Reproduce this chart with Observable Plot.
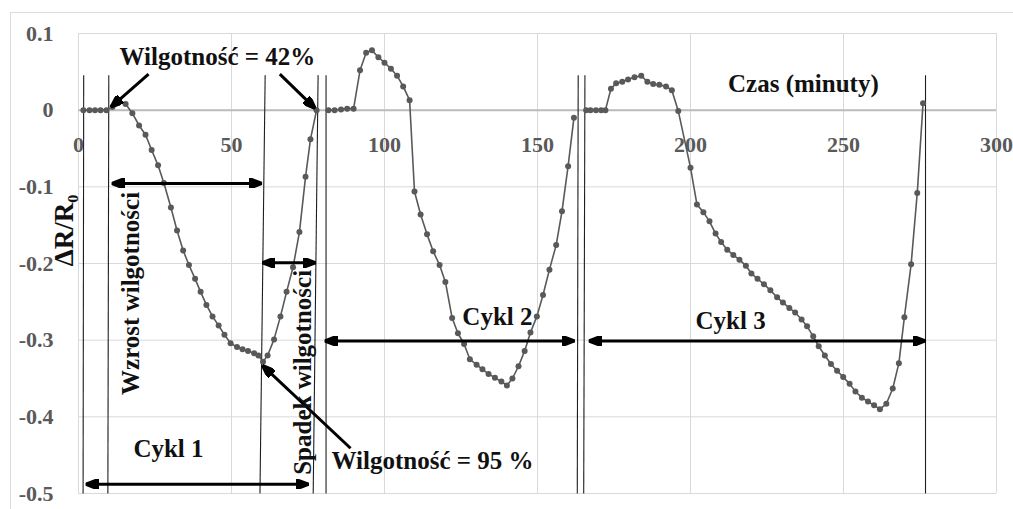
<!DOCTYPE html>
<html><head><meta charset="utf-8">
<script src="https://cdn.jsdelivr.net/npm/d3@7"></script>
<script src="https://cdn.jsdelivr.net/npm/@observablehq/plot@0.6"></script>
<style>
html,body{margin:0;padding:0;background:#fff;}
#wrap{position:relative;width:1013px;height:509px;overflow:hidden;}
#frame{position:absolute;left:10px;top:12px;right:-2px;bottom:-2px;border-top:1px solid #dcdcdc;border-left:1px solid #dcdcdc;pointer-events:none;}
</style></head><body>
<div id="wrap"><div id="chart"></div><div id="frame"></div></div>
<script>
// ---- data (time in minutes, ΔR/R0) ----
const cycle1Time = [1.6,3.6,5.4,7.2,9.1,11.1,13.1,15.4,17.6,19.8,21.9,23.9,26.0,27.9,30.2,32.2,34.2,36.1,38.1,39.9,41.8,43.8,45.8,47.7,49.7,51.8,53.6,55.4,57.4,58.8,60.3,61.8,63.9,66.0,68.0,70.1,72.2,74.2,75.8,77.8];
const cycle1Value = [0,0,0,0,0,0.004,0.010,0.008,-0.004,-0.020,-0.032,-0.052,-0.072,-0.095,-0.127,-0.157,-0.183,-0.202,-0.220,-0.237,-0.254,-0.269,-0.281,-0.293,-0.304,-0.309,-0.312,-0.314,-0.317,-0.320,-0.328,-0.320,-0.299,-0.269,-0.237,-0.205,-0.159,-0.087,-0.038,0];
const cycle2Time = [81.7,83.7,85.8,87.8,89.9,92.0,94.0,95.9,98.0,100.0,102.1,104.1,106.1,108.2,109.8,111.8,113.9,115.9,118.0,119.9,122.1,124.0,126.0,127.9,130.1,132.0,134.0,136.1,138.2,140.0,141.8,143.8,145.8,147.7,149.8,151.8,153.9,156.1,158.0,160.0,161.9];
const cycle2Value = [0,0,0.001,0.002,0.002,0.052,0.075,0.078,0.069,0.062,0.054,0.045,0.031,0.013,-0.106,-0.136,-0.162,-0.184,-0.202,-0.224,-0.271,-0.291,-0.305,-0.325,-0.332,-0.338,-0.344,-0.349,-0.354,-0.359,-0.350,-0.334,-0.314,-0.290,-0.269,-0.241,-0.208,-0.176,-0.132,-0.073,-0.010];
const cycle3Time = [165.9,167.3,169.1,170.8,172.2,174.0,175.7,177.7,179.6,181.7,183.9,185.9,187.8,189.8,192.0,193.9,196.0,200.0,202.1,204.2,206.2,208.2,210.0,212.0,214.0,216.0,218.1,219.9,221.9,224.0,226.1,228.3,230.2,232.3,234.2,236.3,238.1,240.1,241.9,243.9,245.9,247.9,249.9,252.0,253.9,256.0,258.0,260.0,261.9,264.0,266.1,268.1,269.9,272.1,274.1,276.0];
const cycle3Value = [0,0,0,0,0,0.028,0.035,0.037,0.040,0.043,0.045,0.037,0.034,0.033,0.031,0.026,-0.001,-0.075,-0.123,-0.133,-0.145,-0.161,-0.172,-0.182,-0.189,-0.195,-0.203,-0.213,-0.220,-0.227,-0.235,-0.244,-0.251,-0.258,-0.264,-0.273,-0.282,-0.295,-0.308,-0.320,-0.331,-0.340,-0.348,-0.357,-0.367,-0.375,-0.380,-0.385,-0.390,-0.383,-0.363,-0.330,-0.270,-0.201,-0.108,0.009];

const xTicks = [0,50,100,150,200,250,300];
const yTicks = [0.1,0,-0.1,-0.2,-0.3,-0.4,-0.5];

// annotation geometry (data units)
const dividerTopTime = [1.7,9.9,61.0,78.3,80.9,163.3,165.5,276.8];
const dividerBottomTime = [1.5,9.6,59.3,76.7,80.9,163.0,165.1,276.8];
const spanStart = [10.8,60.0,2.3,80.4,166.7];
const spanEnd = [60.0,77.5,75.2,162.1,276.8];
const spanLevel = [-0.0956,-0.199,-0.488,-0.301,-0.301];
const pointerFrom = [[22.9,0.047],[65.8,0.047],[88.9,-0.441]];
const pointerTo = [[10.6,0.004],[77.4,0.002],[60.1,-0.333]];
const labelText = ["Wilgotność = 42%","Czas (minuty)","Cykl 1","Cykl 2","Cykl 3","Wilgotność = 95 %"];
const labelTime = [45.4,236.9,29.4,136.9,213.1,115.7];
const labelLevel = [0.069,0.034,-0.442,-0.270,-0.275,-0.458];
const vLabelText = ["Wzrost wilgotności","Spadek wilgotności"];
const vLabelTime = [17.0,73.5];
const vLabelLevel = [-0.239,-0.342];
const yTitle = {s: "ΔR/R₀", x: -4.6, y: -0.157};

// ---- build tables ----
const series = [
  ...cycle1Time.map((t,i)=>({t, v:cycle1Value[i], c:1})),
  ...cycle2Time.map((t,i)=>({t, v:cycle2Value[i], c:2})),
  ...cycle3Time.map((t,i)=>({t, v:cycle3Value[i], c:3}))
];
const dividers = dividerTopTime.map((t,i)=>({x1:t, x2:dividerBottomTime[i], y1:0.0457, y2:-0.5}));
const spans = spanStart.map((s,i)=>({x1:s, x2:spanEnd[i], y:spanLevel[i]}));
const pointers = pointerFrom.map((p,i)=>({x1:p[0], y1:p[1], x2:pointerTo[i][0], y2:pointerTo[i][1]}));
const labels = labelText.map((s,i)=>({s, x:labelTime[i], y:labelLevel[i]}));
const vLabels = vLabelText.map((s,i)=>({s, x:vLabelTime[i], y:vLabelLevel[i]}));

function head(orient){
  return (color) => {
    const ns = "http://www.w3.org/2000/svg";
    const m = document.createElementNS(ns, "marker");
    m.setAttribute("viewBox", "-13 -5 13 10");
    m.setAttribute("markerUnits", "userSpaceOnUse");
    m.setAttribute("markerWidth", 13);
    m.setAttribute("markerHeight", 10);
    m.setAttribute("refX", 0);
    m.setAttribute("refY", 0);
    m.setAttribute("orient", orient);
    const p = document.createElementNS(ns, "path");
    p.setAttribute("d", "M-13,-5L0,0L-13,5Z");
    p.setAttribute("fill", color || "#000");
    m.appendChild(p);
    return m;
  };
}

const FONT = "'Liberation Serif', 'DejaVu Serif', serif";
const gray = "#595959";

const chart = Plot.plot({
  width: 1013,
  height: 509,
  marginLeft: 78,
  marginRight: 17,
  marginTop: 33,
  marginBottom: 16,
  style: {background: "transparent", fontFamily: FONT},
  x: {domain: [0,300], axis: null},
  y: {domain: [-0.5,0.1], axis: null},
  marks: [
    Plot.ruleX(xTicks, {stroke: "#d9d9d9", strokeWidth: 1}),
    Plot.ruleY(yTicks, {stroke: "#d9d9d9", strokeWidth: 1}),
    Plot.ruleY([0], {stroke: "#bcbcbc", strokeWidth: 2}),
    Plot.text(yTicks, {x: 0, y: d=>d, text: d=>String(d), textAnchor: "end", dx: -25, fill: gray, fontSize: 22, fontWeight: "bold", fontFamily: FONT}),
    Plot.text(xTicks, {x: d=>d, y: 0, text: d=>String(d), dy: 35, fill: gray, fontSize: 22, fontWeight: "bold", fontFamily: FONT}),
    Plot.link(dividers, {x1:"x1", y1:"y1", x2:"x2", y2:"y2", stroke: "#1e1e1e", strokeWidth: 1.1}),
    Plot.line(series, {x:"t", y:"v", z:"c", stroke: gray, strokeWidth: 1.6}),
    Plot.dot(series, {x:"t", y:"v", r: 3, fill: gray, stroke: "none"}),
    Plot.link(spans, {x1:"x1", x2:"x2", y1:"y", y2:"y", stroke: "#000", strokeWidth: 3, markerStart: head("auto-start-reverse"), markerEnd: head("auto")}),
    Plot.link(pointers, {x1:"x1", y1:"y1", x2:"x2", y2:"y2", stroke: "#000", strokeWidth: 3, markerEnd: head("auto")}),
    Plot.text(labels, {x:"x", y:"y", text:"s", fill: "#111", fontSize: 25, fontWeight: "bold", fontFamily: FONT}),
    Plot.text(vLabels, {x:"x", y:"y", text:"s", rotate: -90, fill: "#111", fontSize: 25, fontWeight: "bold", fontFamily: FONT}),
    Plot.text([yTitle], {x:"x", y:"y", text:"s", rotate: -90, fill: "#111", fontSize: 27, fontWeight: "bold", fontFamily: FONT})
  ]
});
document.getElementById("chart").appendChild(chart);
</script>
</body></html>
